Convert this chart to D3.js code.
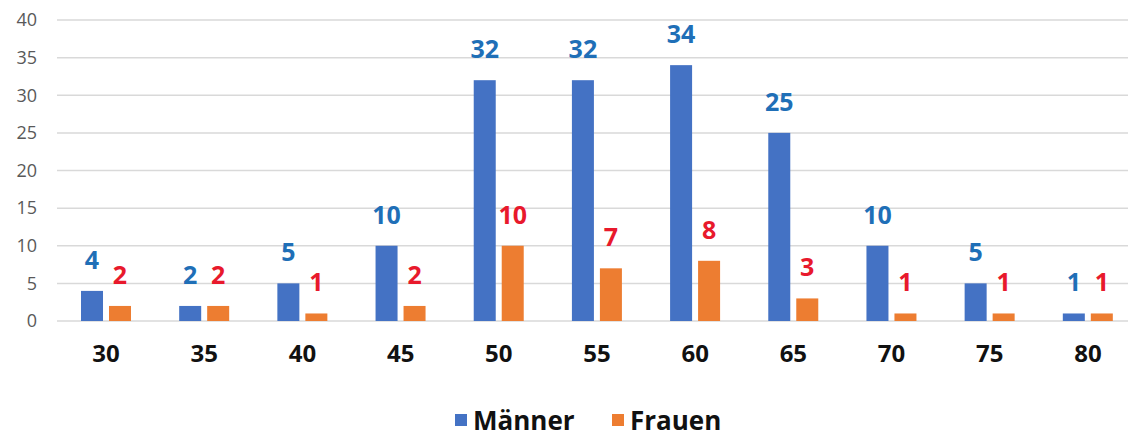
<!DOCTYPE html>
<html>
<head>
<meta charset="utf-8">
<script src="https://cdn.jsdelivr.net/npm/d3@7.9.0/dist/d3.min.js"></script>
<style>
  body { margin: 0; background: #fff; }
  svg { display: block; font-family: "Open Sans", "Noto Sans", sans-serif; }
</style>
</head>
<body>
<svg id="chart"></svg>
<script>
const categories = ["30", "35", "40", "45", "50", "55", "60", "65", "70", "75", "80"];
const maenner = [4, 2, 5, 10, 32, 32, 34, 25, 10, 5, 1];
const frauen = [2, 2, 1, 2, 10, 7, 8, 3, 1, 1, 1];
const seriesNames = ["Männer", "Frauen"];
const yTicks = [0, 5, 10, 15, 20, 25, 30, 35, 40];

const width = 1128, height = 437;
const barColors = ["#4472c4", "#ed7d31"];
const labelColors = ["#1f6fb7", "#e8192c"];

const svg = d3.select("#chart")
    .attr("width", width)
    .attr("height", height);

// Scales
const x0 = d3.scaleBand()
    .domain(categories)
    .range([57, 1137]);

const x1 = d3.scaleBand()
    .domain(seriesNames)
    .range([24, 74])
    .paddingInner(0.214);

const y = d3.scaleLinear()
    .domain([0, 40])
    .range([321, 20]);

// Gridlines
svg.append("g")
    .selectAll("line")
    .data(yTicks)
    .enter()
    .append("line")
    .attr("x1", 57)
    .attr("x2", width)
    .attr("y1", d => y(d))
    .attr("y2", d => y(d))
    .attr("stroke", "#d9d9d9")
    .attr("stroke-width", 1.5);

// Y axis labels
const yAxis = svg.append("g")
    .attr("transform", "translate(37,0)")
    .call(d3.axisLeft(y).tickValues(yTicks).tickSize(0).tickPadding(0));
yAxis.select(".domain").remove();
yAxis.selectAll("text")
    .style("font-family", "'Open Sans', sans-serif")
    .style("font-size", "18px")
    .attr("fill", "#595959");

// X axis labels
const xAxis = svg.append("g")
    .attr("transform", "translate(0,345)")
    .call(d3.axisBottom(x0).tickSize(0).tickPadding(0));
xAxis.select(".domain").remove();
xAxis.selectAll("text")
    .style("font-family", "'Open Sans', sans-serif")
    .style("font-size", "24px")
    .style("font-weight", "bold")
    .attr("fill", "#111");

// Bars and value labels
const rows = categories.map((c, i) => ({ cat: c, values: [maenner[i], frauen[i]] }));

const groups = svg.append("g")
    .selectAll("g")
    .data(rows)
    .enter()
    .append("g")
    .attr("transform", d => `translate(${x0(d.cat)},0)`);

groups.selectAll("rect")
    .data(d => d.values.map((v, k) => ({ key: seriesNames[k], value: v, k })))
    .enter()
    .append("rect")
    .attr("x", d => x1(d.key))
    .attr("y", d => y(d.value))
    .attr("width", x1.bandwidth())
    .attr("height", d => y(0) - y(d.value))
    .attr("fill", d => barColors[d.k]);

groups.selectAll("text")
    .data(d => d.values.map((v, k) => ({ key: seriesNames[k], value: v, k })))
    .enter()
    .append("text")
    .attr("x", d => x1(d.key) + x1.bandwidth() / 2)
    .attr("y", d => y(d.value) - 22)
    .attr("text-anchor", "middle")
    .style("font-size", "25px")
    .style("font-weight", "bold")
    .attr("fill", d => labelColors[d.k])
    .text(d => d.value);

// Legend
const legendX = [455, 612];
const legend = svg.append("g");
legend.selectAll("rect")
    .data(seriesNames)
    .enter()
    .append("rect")
    .attr("x", (d, i) => legendX[i])
    .attr("y", 414)
    .attr("width", 12)
    .attr("height", 12)
    .attr("fill", (d, i) => barColors[i]);

legend.selectAll("text")
    .data(seriesNames)
    .enter()
    .append("text")
    .attr("x", (d, i) => legendX[i] + 18)
    .attr("y", 430)
    .style("font-size", "26px")
    .style("font-weight", "bold")
    .attr("fill", "#111")
    .text(d => d);
</script>
</body>
</html>
